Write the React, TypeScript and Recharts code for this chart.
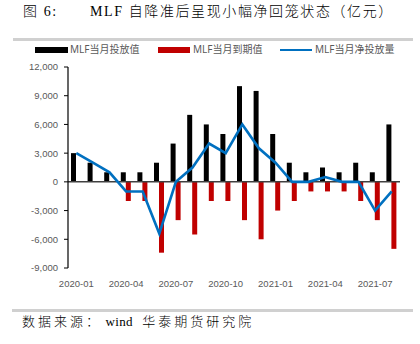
import React from 'react';
import { ComposedChart, Bar, Line, XAxis, YAxis, ReferenceLine } from 'recharts';

const months = ['2020-01','2020-02','2020-03','2020-04','2020-05','2020-06','2020-07','2020-08','2020-09','2020-10','2020-11','2020-12','2021-01','2021-02','2021-03','2021-04','2021-05','2021-06','2021-07','2021-08'];
const issueValues = [3000, 2000, 1000, 1000, 1000, 2000, 4000, 7000, 6000, 5000, 10000, 9500, 5000, 2000, 1000, 1500, 1000, 2000, 1000, 6000];
const maturityValues = [0, 0, 0, -2000, -2000, -7400, -4000, -5500, -2000, -2000, -4000, -6000, -3000, -2000, -1000, -1000, -1000, -2000, -4000, -7000];
const netValues = [3000, 2000, 1000, -1000, -1000, -5400, 0, 1500, 4000, 3000, 6000, 3500, 2000, 0, 0, 500, 0, 0, -3000, -1000];
const yTicks = [-9000, -6000, -3000, 0, 3000, 6000, 9000, 12000];

const data = months.map((m, i) => ({ month: m, issue: issueValues[i], mature: maturityValues[i], net: netValues[i] }));

const serif = "'Liberation Serif', 'Noto Sans CJK SC', serif";
const sans = "'Liberation Sans', 'Noto Sans CJK SC', sans-serif";
const legendText: React.CSSProperties = { position: 'absolute', top: 43, fontSize: 10, lineHeight: '13px', color: '#595959', fontFamily: "'Noto Sans', 'Noto Sans CJK SC', sans-serif", whiteSpace: 'nowrap' };

export default function App() {
  return (
    <div style={{ position: 'absolute', left: 0, top: 0, width: 420, height: 344, background: '#fff', overflow: 'hidden' }}>
      <div style={{ position: 'absolute', left: 23, top: 3, fontSize: 14, lineHeight: '18px', fontFamily: serif, fontWeight: 300, color: '#000', whiteSpace: 'nowrap', letterSpacing: 1.6 }}>图 6:</div>
      <div style={{ position: 'absolute', left: 90, top: 3, fontSize: 14, lineHeight: '18px', fontFamily: serif, fontWeight: 300, color: '#000', whiteSpace: 'nowrap', letterSpacing: 1.6 }}>MLF 自降准后呈现小幅净回笼状态（亿元）</div>
      <div style={{ position: 'absolute', left: 13, top: 38, width: 400, height: 3, background: '#d0d0d0' }} />

      <div style={{ position: 'absolute', left: 35, top: 47, width: 33, height: 6, background: '#000' }} />
      <div style={{ ...legendText, left: 70 }}>MLF当月投放值</div>
      <div style={{ position: 'absolute', left: 158, top: 47, width: 32, height: 6, background: '#c00000' }} />
      <div style={{ ...legendText, left: 193 }}>MLF当月到期值</div>
      <div style={{ position: 'absolute', left: 280, top: 49, width: 32, height: 2, background: '#0070c0' }} />
      <div style={{ ...legendText, left: 315 }}>MLF当月净投放量</div>

      <div style={{ position: 'absolute', left: 0, top: 0 }}>
        <ComposedChart width={420} height={344} data={data} margin={{ top: 67, right: 20, left: 0, bottom: 46 }} barGap={0} barSize={5}>
          <XAxis dataKey="month" interval={2} axisLine={false} tickLine={false} height={30} tickMargin={6}
            tick={{ fontSize: 9.5, fill: '#595959', fontFamily: sans }} />
          <YAxis domain={[-9000, 12000]} ticks={yTicks} width={68} tickSize={4} tickMargin={6} interval={0}
            axisLine={{ stroke: '#000', strokeWidth: 1.2 }} tickLine={{ stroke: '#000' }}
            tick={{ fontSize: 9.5, fill: '#595959', fontFamily: sans }}
            tickFormatter={(v: number) => v.toLocaleString('en-US')} />
          <ReferenceLine y={0} stroke="#404040" strokeWidth={1.5} />
          <Bar dataKey="issue" fill="#000000" isAnimationActive={false} />
          <Bar dataKey="mature" fill="#c00000" isAnimationActive={false} />
          <Line dataKey="net" type="linear" stroke="#0070c0" strokeWidth={2.6} dot={false} isAnimationActive={false} />
        </ComposedChart>
      </div>

      <div style={{ position: 'absolute', left: 12, top: 309, width: 401, height: 2.5, background: '#d0d0d0' }} />
      <div style={{ position: 'absolute', left: 22, top: 313, fontSize: 13, lineHeight: '18px', fontFamily: serif, fontWeight: 300, color: '#000', whiteSpace: 'nowrap', letterSpacing: 3 }}>数据来源：<span style={{ letterSpacing: 0.3, marginRight: 6 }}> wind </span>华泰期货研究院</div>
    </div>
  );
}
